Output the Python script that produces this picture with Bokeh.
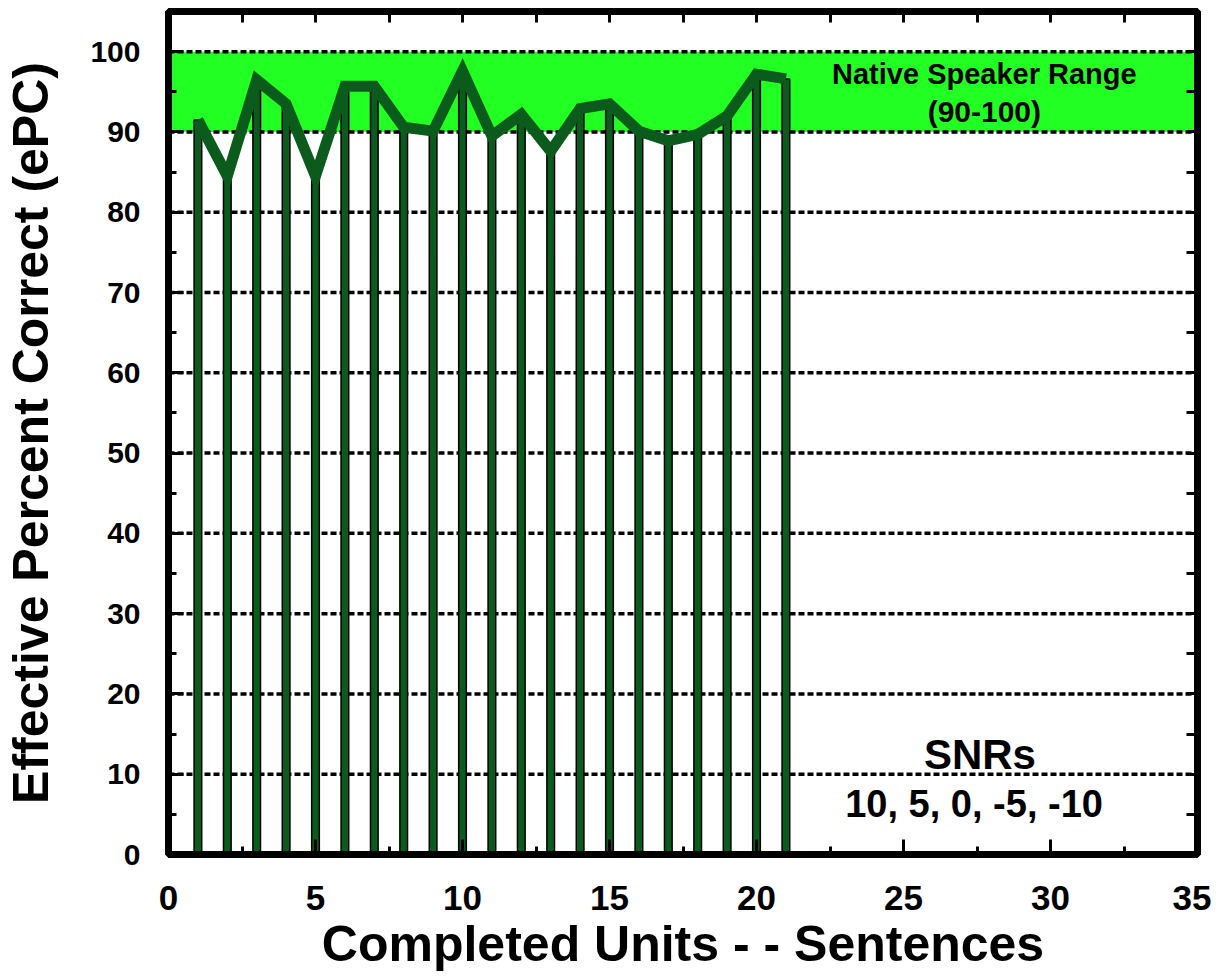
from bokeh.plotting import figure
from bokeh.models import (Range1d, LinearAxis, SingleIntervalTicker, FixedTicker,
                          Label, ColumnDataSource)
from bokeh.embed import file_html
from bokeh.resources import INLINE

# ---- data ----
units = list(range(1, 22))
epc = [91.5, 84.5, 96.5, 93.5, 84.5, 95.7, 95.7, 90.6, 90.1, 97.6, 89.5,
       92.2, 87.6, 92.9, 93.5, 90.1, 88.9, 89.7, 92.0, 97.2, 96.6]
native_low, native_high = 90, 100
grid_values = [10, 20, 30, 40, 50, 60, 70, 80, 90, 100]
top_tick_values = [2.5, 5, 7.5, 10, 12.5, 15, 17.5, 20, 22.5, 25, 27.5, 30, 32.5]
right_tick_values = [5, 10, 15, 20, 25, 30, 35, 40, 45, 50, 55, 60, 65, 70, 75,
                     80, 85, 90, 95, 100]
x_min, x_max = 0, 35
y_min, y_max = 0, 105

FONT = "Liberation Sans"
BAND = "#22ff22"
DARK = "#0b5c1c"

p = figure(frame_width=1029, frame_height=843, output_backend="svg",
           toolbar_location=None, x_range=Range1d(x_min, x_max),
           y_range=Range1d(y_min, y_max),
           min_border_left=165, min_border_top=11, min_border_right=14,
           min_border_bottom=100)
p.background_fill_color = "white"
p.border_fill_color = "white"
p.xgrid.visible = False
p.ygrid.visible = False
p.outline_line_color = "black"
p.outline_line_width = 7

# band
p.quad(left=[x_min - 1], right=[x_max + 1], bottom=[native_low], top=[native_high],
       fill_color=BAND, line_color=None)

# dashed gridlines
p.segment(x0=[x_min] * len(grid_values), x1=[x_max] * len(grid_values),
          y0=grid_values, y1=grid_values, line_color="black", line_width=3.5,
          line_dash="6 3")

# bars
src = ColumnDataSource(dict(x=units, y=epc))
p.vbar(x="x", top="y", bottom=0, width=0.26, source=src,
       fill_color=DARK, line_color="black", line_width=1.5)
# line
p.line(x="x", y="y", source=src, line_color=DARK, line_width=11, line_join="miter")

# axes styling
def style_axis(ax):
    ax.axis_line_color = "black"
    ax.axis_line_width = 7
    ax.major_tick_in = 15
    ax.major_tick_out = 0
    ax.minor_tick_in = 8
    ax.minor_tick_out = 0
    ax.major_tick_line_width = 3
    ax.minor_tick_line_width = 3
    ax.major_tick_line_color = "black"
    ax.minor_tick_line_color = "black"
    ax.major_label_text_font = FONT
    ax.major_label_text_font_style = "bold"
    ax.major_label_text_color = "black"
    ax.axis_label_text_font = FONT
    ax.axis_label_text_font_style = "bold"
    ax.axis_label_text_color = "black"

p.xaxis.ticker = SingleIntervalTicker(interval=5, num_minor_ticks=2)
p.yaxis.ticker = SingleIntervalTicker(interval=10, num_minor_ticks=2)
style_axis(p.xaxis[0])
style_axis(p.yaxis[0])
p.xaxis.major_label_text_font_size = "35px"
p.xaxis.major_label_standoff = 31
p.xaxis.axis_label = "Completed Units - - Sentences"
p.xaxis.axis_label_text_font_size = "50px"
p.xaxis.axis_label_standoff = 3
p.yaxis.major_label_text_font_size = "30px"
p.yaxis.major_label_standoff = 28
p.yaxis.axis_label = "Effective Percent Correct (ePC)"
p.yaxis.axis_label_text_font_size = "50px"
p.yaxis.axis_label_standoff = 28

for vals, side in ((top_tick_values, "above"), (right_tick_values, "right")):
    ax = LinearAxis(ticker=FixedTicker(ticks=[], minor_ticks=vals))
    style_axis(ax)
    ax.minor_tick_in = 11
    p.add_layout(ax, side)

# annotations
def add_label(x, y, text, size):
    p.add_layout(Label(x=x, y=y, text=text, text_font=FONT,
                       text_font_style="bold", text_font_size=size,
                       text_align="center", text_baseline="middle",
                       text_color="black"))

add_label(27.75, 97.2, "Native Speaker Range", "29px")
add_label(27.75, 92.6, "(90-100)", "30px")
add_label(27.6, 12.4, "SNRs", "42px")
add_label(27.4, 6.3, "10, 5, 0, -5, -10", "38px")

open("out.html", "w").write(file_html(p, INLINE))
